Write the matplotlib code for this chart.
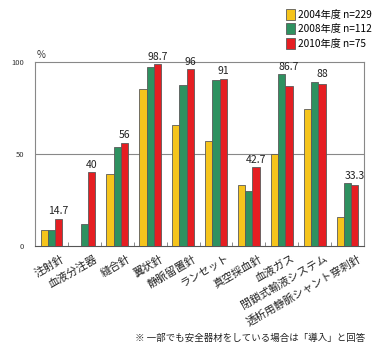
import matplotlib
matplotlib.use("Agg")
import matplotlib.pyplot as plt
import numpy as np

plt.rcParams['font.family'] = ['Noto Sans CJK JP', 'DejaVu Sans']

categories = ["注射針", "血液分注器", "縫合針", "翼状針", "静脈留置針", "ランセット",
              "真空採血針", "血液ガス", "閉鎖式輸液システム", "透析用静脈シャント穿刺針"]
series_names = ["2004年度 n=229", "2008年度 n=112", "2010年度 n=75"]
v2004 = [8.8, 0, 39, 85.2, 65.9, 57.2, 33.3, 50, 74.3, 15.9]
v2008 = [8.8, 12, 54, 97.1, 87.3, 90.4, 30, 93.3, 89, 34.1]
v2010 = [14.7, 40, 56, 98.7, 96, 91, 42.7, 86.7, 88, 33.3]
labels2010 = ["14.7", "40", "56", "98.7", "96", "91", "42.7", "86.7", "88", "33.3"]
yticks = [0, 50, 100]
footnote = "※ 一部でも安全器材をしている場合は「導入」と回答"

colors = ["#F5C41C", "#2E9160", "#E51E22"]
edge = "#5a5a5a"

fig = plt.figure(figsize=(3.8, 3.5), dpi=100)
ax = fig.add_axes([0.092, 0.297, 0.866, 0.526])

x = np.arange(len(categories))
w = 0.22
for i, (vals, c) in enumerate(zip([v2004, v2008, v2010], colors)):
    xs = x + (i - 1) * w
    vv = np.array(vals, dtype=float)
    mask = vv > 0
    ax.bar(xs[mask], vv[mask], width=w, color=c, edgecolor=edge, linewidth=0.6,
           label=series_names[i], zorder=3)

for xi, a, b, c, lab in zip(x, v2004, v2008, v2010, labels2010):
    top = max(a, b, c)
    ax.text(xi + w, top + 1.5, lab, ha='center', va='bottom', fontsize=7.5,
            color='#222222')

ax.set_xlim(-0.5, len(categories) - 0.5)
ax.set_ylim(0, 100)
ax.axhline(50, color='#888888', linewidth=0.8, zorder=1)
for s in ax.spines.values():
    s.set_color('#888888')
    s.set_linewidth(0.8)
ax.spines['bottom'].set_color('#555555')

ax.set_yticks(yticks)
ax.set_yticklabels([str(t) for t in yticks], fontsize=5.5, color='#333333')
ax.tick_params(axis='y', length=0, pad=8)

ax.set_xticks(x[:-1] + 0.5)
ax.set_xticklabels([])
ax.tick_params(axis='x', direction='in', length=3, color='#777777', width=0.6)

for xi, cat in zip(x, categories):
    ax.text(xi + 0.3, -4, cat, rotation=30, ha='right', va='top',
            rotation_mode='anchor', fontsize=7.8, color='#222222')

fig.text(0.097, 0.835, "%", fontsize=7, color='#333333')

leg = fig.legend(loc='upper left', bbox_to_anchor=(0.735, 0.995), frameon=False,
                 fontsize=7.3, handlelength=0.8, handleheight=1.3,
                 handletextpad=0.3, labelspacing=0.35, borderpad=0.2)

fig.text(0.96, 0.02, footnote, ha='right', va='bottom', fontsize=6.8,
         color='#222222')

fig.savefig("out.png", dpi=100)
